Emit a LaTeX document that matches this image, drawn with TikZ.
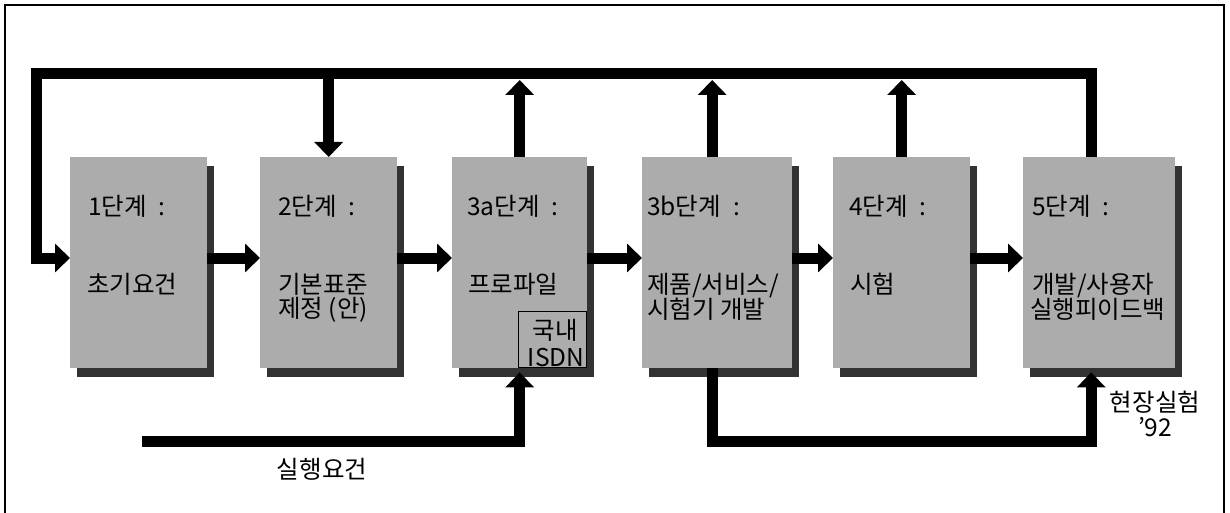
\documentclass[tikz,border=0pt]{standalone}
\usepackage{fontspec}
\setmainfont{Noto Sans CJK KR}
\usetikzlibrary{arrows.meta,shadows}
\definecolor{boxgray}{RGB}{172,172,172}
\definecolor{shadegray}{RGB}{50,50,50}
\newcommand{\colsep}{\hspace{12pt}:}
\begin{document}
\begin{tikzpicture}[x=1pt,y=-1pt,
  stage/.style={fill=boxgray, minimum width=#1, minimum height=211pt,
    anchor=north west, inner sep=0pt,
    drop shadow={shadow xshift=7pt, shadow yshift=-9pt, fill=shadegray, opacity=1}},
  conn/.style={line width=11pt, draw=black},
  arr/.style={conn, -{Triangle[length=15pt, width=28pt]}},
  txt/.style={font=\fontsize{24.5}{27}\selectfont, inner sep=0pt, anchor=base west},
  ctxt/.style={txt, anchor=base},
]
\useasboundingbox (0,0) rectangle (1230,513);
% outer frame (open at the bottom)
\draw[line width=2pt] (5,513) -- (5,5) -- (1224,5) -- (1224,513);

% stage boxes
\node[stage=137pt] (b1) at (70,157) {};
\node[stage=137pt] (b2) at (260,157) {};
\node[stage=135pt] (b3) at (452,157) {};
\node[stage=150pt] (b4) at (642,157) {};
\node[stage=137pt] (b5) at (833,157) {};
\node[stage=152pt] (b6) at (1023,157) {};
\node[draw, line width=1.5pt, anchor=south east, minimum width=68pt,
      minimum height=56pt, inner sep=0pt] (isdn) at (b3.south east) {};

% helper coordinates
\coordinate (row) at (0,258);
\coordinate (bus) at (0,74);
\coordinate (busb) at (0,80);
\coordinate (low) at (0,441);
\coordinate (fbR) at ([xshift=-8pt]b6.north);
\coordinate (fbL) at (36,74);
\coordinate (req) at (142,441);
\coordinate (b3in) at ([yshift=-4pt]b3.south);
\coordinate (b4out) at ([xshift=-5pt]b4.south);
\coordinate (b6in) at ([xshift=-8pt,yshift=-4pt]b6.south);

% feedback bus
\draw[arr] (fbR) |- (fbL) |- (b1.west |- row);
\draw[arr] (b2.north |- bus) -- (b2.north);
\draw[arr] (b3.north) -- (b3.north |- busb);
\draw[arr] ([xshift=-5pt]b4.north) -- ([xshift=-5pt]b4.north |- busb);
\draw[arr] (b5.north) -- (b5.north |- busb);

% forward arrows
\draw[arr] (b1.east |- row) -- (b2.west |- row);
\draw[arr] (b2.east |- row) -- (b3.west |- row);
\draw[arr] (b3.east |- row) -- (b4.west |- row);
\draw[arr] (b4.east |- row) -- (b5.west |- row);
\draw[arr] (b5.east |- row) -- (b6.west |- row);

% bottom connectors
\draw[arr] (req) -| (b3in);
\draw[arr] (b4out) -- (b4out |- low) -| (b6in);

% texts
\node[txt] at (88,215) {1단계\colsep};
\node[txt] at (87,293) {초기요건};
\node[txt] at (278,215) {2단계\colsep};
\node[txt] at (278,293) {기본표준};
\node[txt] at (278,317) {제정 (안)};
\node[txt] at (467,215) {3a단계\colsep};
\node[txt] at (468,293) {프로파일};
\node[ctxt] at (555,339) {국내};
\node[ctxt] at (556,366) {ISDN};
\node[txt] at (647,215) {3b단계\colsep};
\node[txt] at (647,293) {제품/서비스/};
\node[txt] at (647,318) {시험기 개발};
\node[txt] at (849,215) {4단계\colsep};
\node[txt] at (850,293) {시험};
\node[txt] at (1032,215) {5단계\colsep};
\node[txt] at (1032,293) {개발/사용자};
\node[txt] at (1030,318) {실행피이드백};
\node[ctxt] at (322,478) {실행요건};
\node[ctxt] at (1155,411) {현장실험};
\node[ctxt] at (1155,436) {’92};
\end{tikzpicture}
\end{document}
